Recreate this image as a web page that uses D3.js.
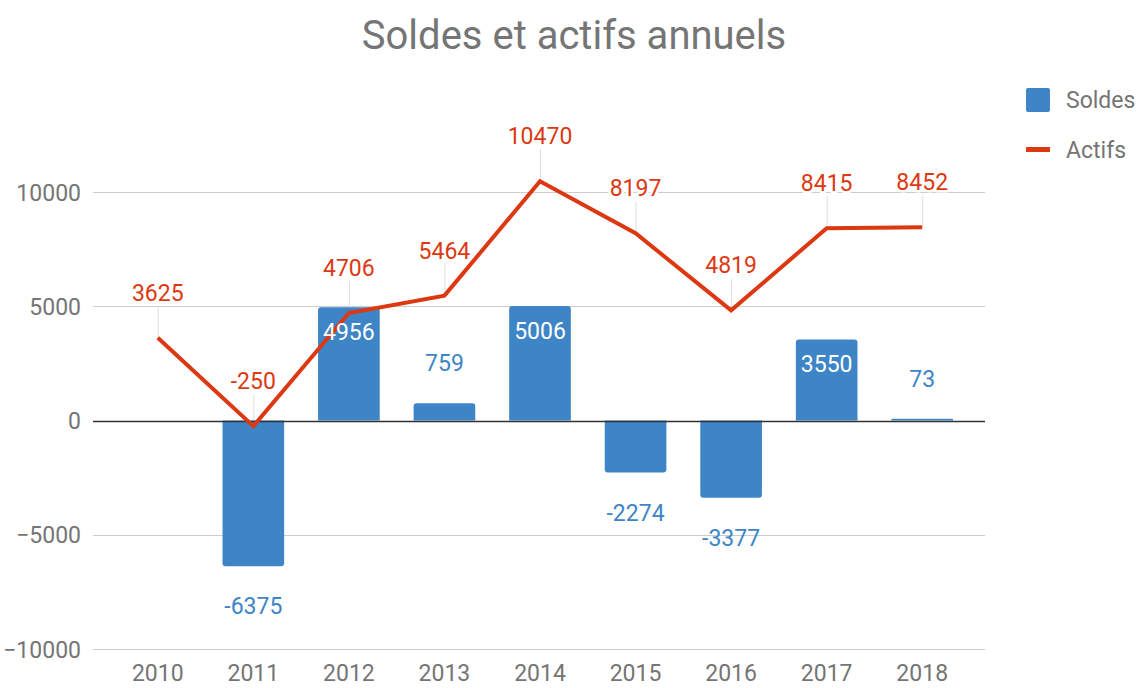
<!DOCTYPE html>
<html>
<head>
<meta charset="utf-8">
<script src="https://cdn.jsdelivr.net/npm/d3@7"></script>
<style>
  body { margin: 0; background: #fff; }
  text { font-family: Roboto, "Noto Sans", sans-serif; }
  .grid line { stroke: #cccccc; stroke-width: 1; }
  .halo { stroke: #fff; stroke-width: 5; stroke-linejoin: round; }
</style>
</head>
<body>
<div id="chart"></div>
<script>
var years = ["2010", "2011", "2012", "2013", "2014", "2015", "2016", "2017", "2018"];
var soldes = [0, -6375, 4956, 759, 5006, -2274, -3377, 3550, 73];
var actifs = [3625, -250, 4706, 5464, 10470, 8197, 4819, 8415, 8452];
var yTicks = [-10000, -5000, 0, 5000, 10000];

function init() {
    var width = 1140;
    var height = 688;

    var blue = "#3d85c6";
    var red = "#dc3912";
    var grey = "#757575";
    var fs = "23px";

    var svg = d3.select("#chart")
        .append("svg")
        .attr("width", width)
        .attr("height", height);

    // scales
    var x = d3.scaleBand()
        .domain(years)
        .range([110, 970]);

    var y = d3.scaleLinear()
        .domain([-10000, 10000])
        .range([649, 192]);

    var barW = x.bandwidth() * 0.645;
    var cx = function (d) { return x(d) + x.bandwidth() / 2; };

    // title
    svg.append("text")
        .attr("x", 574)
        .attr("y", 49)
        .attr("text-anchor", "middle")
        .style("font-size", "40px")
        .style("fill", grey)
        .text("Soldes et actifs annuels");

    // grid
    var grid = svg.append("g").attr("class", "grid");
    grid.selectAll("line")
        .data(yTicks.filter(function (t) { return t !== 0; }))
        .enter().append("line")
        .attr("x1", 93).attr("x2", 985)
        .attr("y1", function (d) { return Math.round(y(d)) + 0.5; })
        .attr("y2", function (d) { return Math.round(y(d)) + 0.5; });

    // y axis labels
    var yAxis = d3.axisLeft(y).tickValues(yTicks).tickSize(0).tickPadding(0)
        .tickFormat(d3.format("d"));
    var ya = svg.append("g")
        .attr("transform", "translate(81,0)")
        .call(yAxis);
    ya.select(".domain").remove();
    ya.selectAll("text")
        .style("font-size", fs)
        .style("fill", grey)
        .attr("dy", "0.35em");

    // x axis labels
    var xAxis = d3.axisBottom(x).tickSize(0).tickPadding(0);
    var xa = svg.append("g")
        .attr("transform", "translate(0,673)")
        .call(xAxis);
    xa.select(".domain").remove();
    xa.selectAll("text")
        .style("font-size", fs)
        .style("fill", grey)
        .attr("dy", "0.35em");

    // leader lines for the line labels
    svg.append("g").selectAll("line")
        .data(actifs)
        .enter().append("line")
        .attr("x1", function (d, i) { return cx(years[i]) + 0.5; })
        .attr("x2", function (d, i) { return cx(years[i]) + 0.5; })
        .attr("y1", function (d) { return y(d); })
        .attr("y2", function (d) { return y(d) - 32; })
        .style("stroke", "#dddddd")
        .style("stroke-width", 1);

    // bars
    svg.append("g").selectAll("path")
        .data(soldes)
        .enter().append("path")
        .attr("d", function (d, i) {
            var x0 = cx(years[i]) - barW / 2;
            var top = y(Math.max(0, d));
            var h = Math.abs(y(d) - y(0));
            var r = Math.min(3, h / 2);
            if (h <= 0) return null;
            if (d > 0) {
                return "M" + x0 + "," + y(0) +
                    "V" + (top + r) +
                    "Q" + x0 + "," + top + " " + (x0 + r) + "," + top +
                    "H" + (x0 + barW - r) +
                    "Q" + (x0 + barW) + "," + top + " " + (x0 + barW) + "," + (top + r) +
                    "V" + y(0) + "Z";
            }
            var bot = y(d);
            return "M" + x0 + "," + y(0) +
                "V" + (bot - r) +
                "Q" + x0 + "," + bot + " " + (x0 + r) + "," + bot +
                "H" + (x0 + barW - r) +
                "Q" + (x0 + barW) + "," + bot + " " + (x0 + barW) + "," + (bot - r) +
                "V" + y(0) + "Z";
        })
        .style("fill", blue);

    // zero line
    svg.append("line")
        .attr("x1", 93).attr("x2", 985)
        .attr("y1", Math.round(y(0)) + 0.5).attr("y2", Math.round(y(0)) + 0.5)
        .style("stroke", "#333333")
        .style("stroke-width", 1.5);

    // line
    var line = d3.line()
        .x(function (d, i) { return cx(years[i]); })
        .y(function (d) { return y(d); });

    svg.append("path")
        .datum(actifs)
        .attr("d", line)
        .style("fill", "none")
        .style("stroke", red)
        .style("stroke-width", 4);

    // bar labels (drawn over the line)
    svg.append("g").selectAll("text")
        .data(soldes)
        .enter().append("text")
        .attr("x", function (d, i) { return cx(years[i]); })
        .attr("y", function (d) {
            if (d > 2000) return y(d) + 25;
            if (d >= 0) return y(d) - 40;
            return y(d) + 40;
        })
        .attr("dy", "0.35em")
        .attr("text-anchor", "middle")
        .style("font-size", fs)
        .style("fill", function (d) { return d > 2000 ? "#fff" : blue; })
        .text(function (d) { return d === 0 ? "" : d; });

    // line labels (with white halo)
    var ll = svg.append("g").selectAll("g")
        .data(actifs)
        .enter().append("g");
    ll.append("text")
        .attr("class", "halo")
        .attr("x", function (d, i) { return cx(years[i]); })
        .attr("y", function (d) { return y(d) - 45; })
        .attr("dy", "0.35em")
        .attr("text-anchor", "middle")
        .style("font-size", fs)
        .text(function (d) { return d; });
    ll.append("text")
        .attr("x", function (d, i) { return cx(years[i]); })
        .attr("y", function (d) { return y(d) - 45; })
        .attr("dy", "0.35em")
        .attr("text-anchor", "middle")
        .style("font-size", fs)
        .style("fill", red)
        .text(function (d) { return d; });

    // legend
    var legend = svg.append("g").attr("transform", "translate(1026,0)");
    legend.append("rect")
        .attr("x", 0).attr("y", 88)
        .attr("width", 24).attr("height", 24)
        .attr("rx", 2)
        .style("fill", blue);
    legend.append("text")
        .attr("x", 40).attr("y", 100)
        .attr("dy", "0.35em")
        .style("font-size", fs)
        .style("fill", grey)
        .text("Soldes");
    legend.append("rect")
        .attr("x", 0).attr("y", 147)
        .attr("width", 24).attr("height", 5)
        .style("fill", red);
    legend.append("text")
        .attr("x", 40).attr("y", 150)
        .attr("dy", "0.35em")
        .style("font-size", fs)
        .style("fill", grey)
        .text("Actifs");
}

window.onload = init;
</script>
</body>
</html>
